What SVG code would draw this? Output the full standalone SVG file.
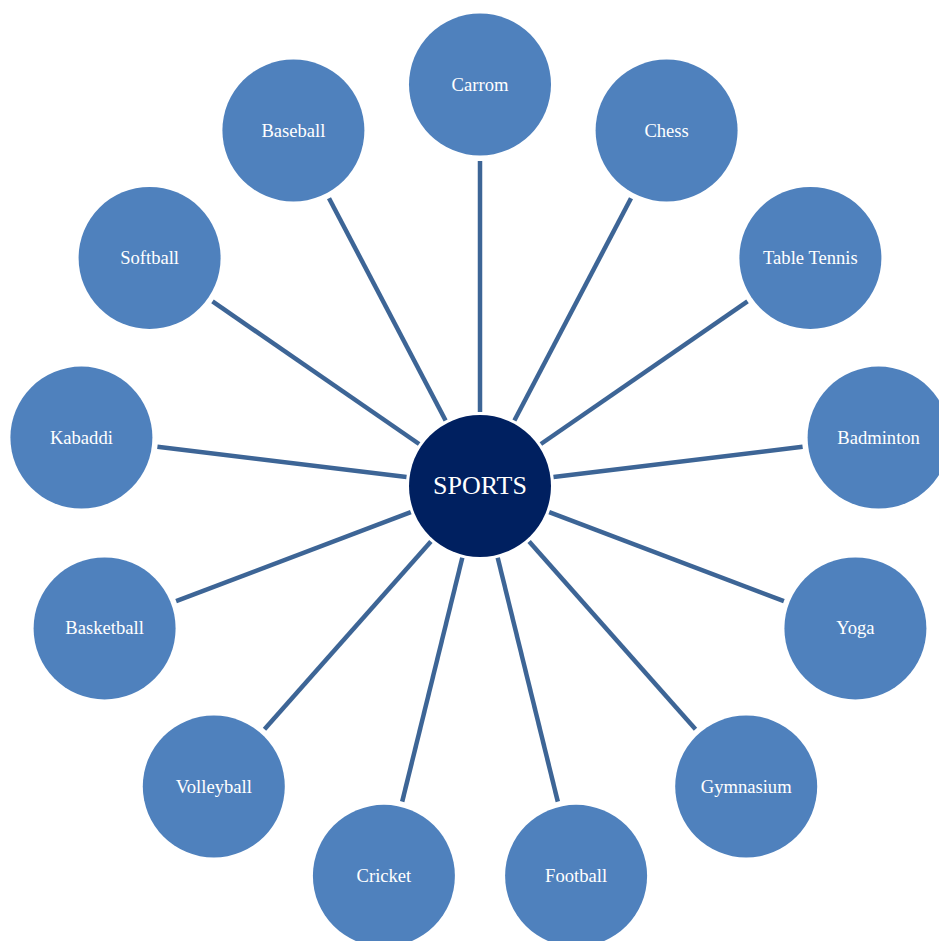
<svg xmlns="http://www.w3.org/2000/svg" width="939" height="941" viewBox="0 0 939 941">
<style>
.bg{fill:#ffffff}
.conn line{stroke:#3d6596;stroke-width:4.5;stroke-linecap:butt}
.n circle{fill:#4f81bd}
.c circle{fill:#002060}
text{font-family:"Liberation Serif","Times New Roman",serif;fill:#ffffff;text-anchor:middle}
.n text{font-size:18.6px}
.c text{font-size:26px}
</style>
<rect class="bg" x="0" y="0" width="939" height="941"/>
<g id="connectors" class="conn">
<line x1="480" y1="412" x2="480" y2="161"/>
<line x1="514.4" y1="420.5" x2="631.0" y2="198.2"/>
<line x1="540.9" y1="444.0" x2="747.5" y2="301.4"/>
<line x1="553.5" y1="477.1" x2="802.6" y2="446.8"/>
<line x1="549.2" y1="512.2" x2="783.9" y2="601.2"/>
<line x1="529.1" y1="541.4" x2="695.5" y2="729.3"/>
<line x1="497.7" y1="557.8" x2="557.8" y2="801.6"/>
<line x1="462.3" y1="557.8" x2="402.2" y2="801.6"/>
<line x1="430.9" y1="541.4" x2="264.5" y2="729.3"/>
<line x1="410.8" y1="512.2" x2="176.1" y2="601.2"/>
<line x1="406.5" y1="477.1" x2="157.4" y2="446.8"/>
<line x1="419.1" y1="444.0" x2="212.5" y2="301.4"/>
<line x1="445.6" y1="420.5" x2="329.0" y2="198.2"/>
</g>
<g id="sports" class="c"><circle cx="480" cy="486" r="71"/><text x="480" y="494">SPORTS</text></g>
<g id="carrom" class="n"><circle cx="480" cy="84.5" r="71"/><text x="480" y="90.5">Carrom</text></g>
<g id="chess" class="n"><circle cx="666.6" cy="130.5" r="71"/><text x="666.6" y="136.5">Chess</text></g>
<g id="table-tennis" class="n"><circle cx="810.4" cy="257.9" r="71"/><text x="810.4" y="263.9">Table Tennis</text></g>
<g id="badminton" class="n"><circle cx="878.6" cy="437.6" r="71"/><text x="878.6" y="443.6">Badminton</text></g>
<g id="yoga" class="n"><circle cx="855.4" cy="628.4" r="71"/><text x="855.4" y="634.4">Yoga</text></g>
<g id="gymnasium" class="n"><circle cx="746.2" cy="786.5" r="71"/><text x="746.2" y="792.5">Gymnasium</text></g>
<g id="football" class="n"><circle cx="576.1" cy="875.8" r="71"/><text x="576.1" y="881.8">Football</text></g>
<g id="cricket" class="n"><circle cx="383.9" cy="875.8" r="71"/><text x="383.9" y="881.8">Cricket</text></g>
<g id="volleyball" class="n"><circle cx="213.8" cy="786.5" r="71"/><text x="213.8" y="792.5">Volleyball</text></g>
<g id="basketball" class="n"><circle cx="104.6" cy="628.4" r="71"/><text x="104.6" y="634.4">Basketball</text></g>
<g id="kabaddi" class="n"><circle cx="81.4" cy="437.6" r="71"/><text x="81.4" y="443.6">Kabaddi</text></g>
<g id="softball" class="n"><circle cx="149.6" cy="257.9" r="71"/><text x="149.6" y="263.9">Softball</text></g>
<g id="baseball" class="n"><circle cx="293.4" cy="130.5" r="71"/><text x="293.4" y="136.5">Baseball</text></g>
</svg>
